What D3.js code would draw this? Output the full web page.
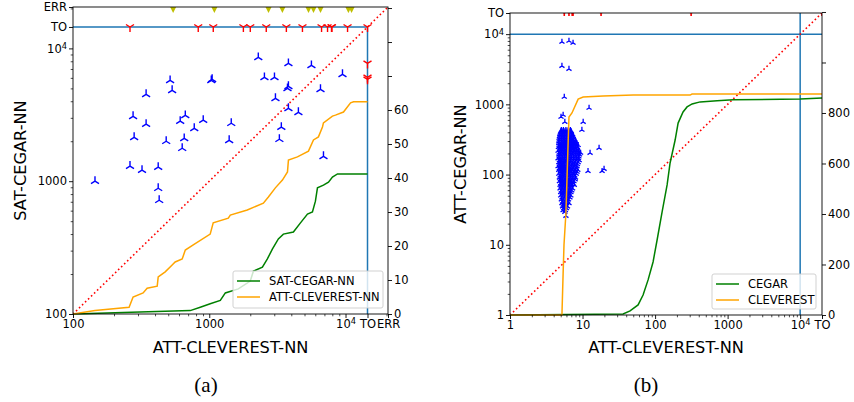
<!DOCTYPE html>
<html>
<head>
<meta charset="utf-8">
<script src="https://cdn.jsdelivr.net/npm/d3@7/dist/d3.min.js"></script>
<style>
  body { margin: 0; background: #fff; }
  svg { display: block; }
</style>
</head>
<body>
<div id="chart"></div>
<script>
// positions used for timeouts / errors beyond the last decade
const TO_A = 14500, ERR_A = 20500;
const TO_B = 20000;

// ---------- panel (a) data ----------
const aTicks = [100, 1000, 10000, TO_A, ERR_A];
const aTickLabels = ['100', '1000', '10^4', 'TO', 'ERR'];
const aCountTicks = [0, 10, 20, 30, 40, 50, 60, 70, 80, 90];
const aCountLabels = ['0', '10', '20', '30', '40', '50', '60', '', '', ''];

// [ATT-CLEVEREST-NN time, SAT-CEGAR-NN time], both solved
const aSolved = [
  [2290, 8550], [3810, 7710], [5620, 7450], [9500, 6380], [2540, 6050], [3010, 6050],
  [3810, 5180], [3750, 5000], [6550, 4920], [3060, 4210], [516, 5740], [1035, 5740],
  [1050, 5850], [534, 4830], [344, 4510], [3810, 3540], [4510, 3300], [276, 3080],
  [667, 3130], [612, 2830], [344, 2690], [903, 2880], [776, 2500], [1450, 2730],
  [3380, 2550], [281, 2140], [483, 2000], [655, 2100], [1400, 2030], [3270, 2070],
  [633, 1770], [6890, 1540], [262, 1300], [321, 1210], [422, 1275], [145, 1000],
  [422, 885], [429, 719]
];
// one of the tools timed out
const aTimeout = [
  [262, TO_A], [830, TO_A], [1070, TO_A], [1780, TO_A], [2000, TO_A], [2620, TO_A],
  [3680, TO_A], [4830, TO_A], [6670, TO_A], [7380, TO_A], [7890, TO_A], [7950, TO_A],
  [10350, TO_A], [TO_A, TO_A], [TO_A, 7710], [TO_A, 6050], [TO_A, 5850]
];
// SAT-CEGAR-NN errors
const aError = [543, 1090, 2720, 3440, 5350, 5820, 6550, 10500, 11070];

// cactus lines: [time, solved instances]
const aCegarLine = [
  [100, 0], [725, 1], [859, 2], [1016, 3], [1205, 4], [1312, 6.2], [1634, 7.4], [2000, 9.7],
  [2108, 12.6], [2455, 13.8], [2670, 16.2], [2904, 19.1], [3214, 22.1], [3499, 23.5],
  [4146, 24.1], [4670, 26.8], [5257, 29.4], [5718, 30], [6013, 33.2], [6223, 37.1],
  [6887, 37.9], [7499, 38.8], [8017, 40.3], [8730, 41.2], [TO_A, 41.2]
];
const aCleverLine = [
  [100, 0], [145, 1], [258, 2], [276, 5], [327, 6.2], [350, 7.6], [415, 8.2], [422, 10.9],
  [475, 12.4], [534, 14.4], [562, 15.3], [633, 16.2], [667, 18.8], [763, 20.3], [1016, 23.5],
  [1069, 26.8], [1380, 28.2], [1427, 29.1], [1901, 30.6], [2495, 32.6], [2716, 34.4],
  [3055, 37.1], [3443, 39.4], [3750, 41.8], [3811, 45.3], [4436, 46.2], [5346, 47.9],
  [5818, 51.2], [6327, 52.1], [6773, 55], [6887, 56.2], [8017, 58.2], [8433, 58.5],
  [9661, 59.4], [10890, 62.1], [11460, 62.4], [TO_A, 62.4]
];

// ---------- panel (b) data ----------
const bTicks = [1, 10, 100, 1000, 10000, TO_B];
const bTickLabels = ['1', '10', '100', '1000', '10^4', 'TO'];
const bCountTicks = [0, 200, 400, 600, 800, 1000, 1200];
const bCountLabels = ['0', '200', '400', '600', '800', '', ''];

// dense cluster, read row by row: [ATT-CEGAR-NN time, ATT-CLEVEREST-NN times]
const bClusterRows = [
  [430, [5.1, 5.45, 5.9, 6.35, 6.8]],
  [411, [5.0, 5.35, 5.7, 6.1, 6.55, 7.0]],
  [392, [4.9, 5.3, 5.75, 6.2, 6.7, 7.1]],
  [372, [4.85, 5.25, 5.65, 6.1, 6.55, 7.0, 7.3]],
  [352, [4.8, 5.2, 5.6, 6.05, 6.5, 7.0, 7.45]],
  [332, [4.75, 5.15, 5.55, 6.0, 6.45, 6.95, 7.6]],
  [312, [4.75, 5.1, 5.5, 5.95, 6.4, 6.9, 7.35, 7.9]],
  [295, [4.7, 5.2, 5.6, 6.05, 6.5, 7.0, 7.55, 8.1]],
  [278, [4.7, 5.05, 5.4, 5.8, 6.25, 6.7, 7.2, 7.75, 8.3]],
  [262, [4.75, 5.2, 5.6, 6.0, 6.5, 7.0, 7.5, 8.1, 8.7]],
  [246, [4.65, 5.0, 5.35, 5.8, 6.3, 6.8, 7.3, 7.85, 8.5]],
  [231, [4.8, 5.15, 5.5, 5.95, 6.4, 6.9, 7.45, 8.05, 8.7]],
  [217, [4.6, 4.95, 5.3, 5.7, 6.1, 6.6, 7.1, 7.7, 8.3, 8.9]],
  [204, [4.75, 5.15, 5.55, 5.95, 6.4, 6.9, 7.5, 8.1, 8.8, 9.4]],
  [192, [4.7, 5.0, 5.4, 5.85, 6.2, 6.75, 7.25, 7.9, 8.6, 9.1]],
  [180, [4.75, 5.2, 5.6, 6.0, 6.45, 6.95, 7.5, 8.1, 8.9]],
  [169, [4.6, 4.9, 5.3, 5.65, 6.05, 6.5, 7.0, 7.6, 8.2, 8.8]],
  [159, [4.8, 5.15, 5.55, 5.95, 6.4, 6.9, 7.5, 8.3, 9.0]],
  [149, [4.7, 5.0, 5.4, 5.8, 6.3, 6.8, 7.4, 8.0, 8.7]],
  [140, [4.8, 5.2, 5.6, 6.1, 6.6, 7.2, 7.8, 8.5]],
  [131, [4.6, 4.9, 5.25, 5.6, 6.0, 6.5, 7.1, 7.7, 8.4]],
  [123, [4.8, 5.15, 5.5, 5.95, 6.4, 6.95, 7.5, 8.2]],
  [116, [4.7, 5.0, 5.4, 5.8, 6.2, 6.7, 7.3, 7.95, 8.6]],
  [109, [4.9, 5.25, 5.65, 6.05, 6.6, 7.1, 7.8, 8.4]],
  [102, [4.7, 5.1, 5.5, 5.9, 6.4, 6.9, 7.5, 8.2]],
  [96, [4.9, 5.3, 5.7, 6.15, 6.6, 7.2, 7.8]],
  [90, [4.8, 5.1, 5.5, 5.95, 6.3, 6.8, 7.4, 8.0]],
  [85, [4.95, 5.3, 5.75, 6.2, 6.7, 7.2, 7.9]],
  [80, [4.8, 5.2, 5.6, 6.0, 6.5, 7.0, 7.6]],
  [75, [5.0, 5.4, 5.8, 6.3, 6.8, 7.4]],
  [71, [4.9, 5.2, 5.6, 6.1, 6.6, 7.1, 7.7]],
  [67, [5.05, 5.45, 5.9, 6.4, 6.95]],
  [63, [4.9, 5.3, 5.7, 6.2, 6.7, 7.3]],
  [59, [5.1, 5.55, 6.0, 6.5, 7.1]],
  [56, [5.0, 5.4, 5.8, 6.3, 6.9]],
  [53, [5.2, 5.6, 6.1, 6.6]],
  [50, [5.0, 5.4, 5.9, 6.4, 6.9]],
  [47, [5.2, 5.7, 6.2, 6.7]],
  [44, [5.1, 5.5, 5.95, 6.4]],
  [41, [5.3, 5.8, 6.25]],
  [39, [5.2, 5.6, 6.0, 6.5]],
  [37, [5.4, 5.9]],
  [35, [5.3, 5.7, 6.2]],
  [33, [5.5, 6.0]],
  [31, [5.4, 5.8]]
];
const bOutliers = [
  [5.2, 7750], [6.5, 8000], [7.4, 7500], [5.2, 3520], [6.5, 3190], [5.6, 1275],
  [12.3, 889], [5.4, 706], [5.05, 662], [5.7, 561], [10.2, 561], [9.8, 432],
  [12.7, 203], [16.9, 239], [11.9, 112], [18.6, 112], [19.8, 120], [5.7, 29.3], [5.9, 25.7]
];
const bTimeout = [
  [5.6, TO_B], [6.5, TO_B], [7.2, TO_B], [7.4, TO_B], [18, TO_B], [314, TO_B], [TO_B, TO_B]
];
const bCegarLine = [
  [1, 0], [36.2, 4], [45.2, 16], [58.3, 40], [68.3, 79], [80.1, 139], [93.8, 210],
  [106.6, 297], [125, 408], [146.5, 515], [161, 602], [189, 693], [207.7, 760], [243, 804],
  [276, 824], [324, 836], [418, 844], [716, 848], [1191, 852], [10000, 855], [TO_B, 859]
];
const bCleverLine = [
  [1, 0], [5.2, 0], [5.4, 166], [5.55, 277], [5.9, 404], [6.1, 535], [6.3, 665], [6.5, 784],
  [7.15, 800], [8.7, 855], [10.2, 863], [19.2, 867], [50, 871], [304, 871], [323, 875], [TO_B, 875]
];

const FONT = '"DejaVu Sans", sans-serif';
const TICK_FS = 11.5;

const svg = d3.select('#chart').append('svg')
  .attr('width', 854).attr('height', 402)
  .style('font-family', FONT);

// matplotlib style tri markers ('1' = down, '2' = up)
function tri(h, up) {
  const s = up ? -1 : 1;
  return 'M0,0L0,' + (s * h) + 'M0,0L' + (0.8 * h) + ',' + (-s * 0.5 * h) +
    'M0,0L' + (-0.8 * h) + ',' + (-s * 0.5 * h);
}

function minorTicks(lo, hi) {
  const out = [];
  for (let e = Math.round(Math.log10(lo)); Math.pow(10, e) < hi; e++) {
    for (let m = 2; m <= 9; m++) {
      const v = m * Math.pow(10, e);
      if (v <= hi) out.push(v);
    }
  }
  return out;
}

function addAxis(g, axis, pos, ticks, labels) {
  const lab = new Map(ticks.map((t, i) => [t, labels[i]]));
  const a = g.append('g').attr('transform', pos)
    .call(axis.tickValues(ticks).tickFormat(d => lab.get(d)));
  a.select('.domain').remove();
  a.attr('font-family', null).attr('font-size', TICK_FS).attr('color', '#000');
  a.selectAll('.tick line').attr('stroke-width', 0.9);
  a.selectAll('.tick text').filter(d => lab.get(d) === '10^4').each(function () {
    const t = d3.select(this).text('10');
    t.append('tspan').attr('dy', '-0.45em').attr('font-size', '0.72em').text('4');
  });
  return a;
}

function addMinor(g, axis, pos, ticks) {
  const a = g.append('g').attr('transform', pos)
    .call(axis.tickValues(ticks).tickSize(2.3).tickFormat(() => ''));
  a.select('.domain').remove();
  a.attr('color', '#000');
  a.selectAll('.tick line').attr('stroke-width', 0.7);
}

function addLegend(g, x0, y0, w, h, items) {
  g.append('rect').attr('x', x0).attr('y', y0).attr('width', w).attr('height', h)
    .attr('rx', 2).attr('fill', '#fff').attr('fill-opacity', 0.8)
    .attr('stroke', '#cccccc').attr('stroke-width', 0.9);
  items.forEach(function (it, i) {
    const yy = y0 + 10 + i * 16;
    g.append('line').attr('x1', x0 + 4).attr('x2', x0 + 27).attr('y1', yy).attr('y2', yy)
      .attr('stroke', it.color).attr('stroke-width', 1.5);
    g.append('text').attr('x', x0 + 36).attr('y', yy).attr('dy', '0.36em')
      .attr('font-size', 11.5).attr('fill', '#000').text(it.label);
  });
}

function frame(g, id, x, y) {
  const [l, r] = x.range(), [b, t] = y.range();
  g.append('clipPath').attr('id', id).append('rect')
    .attr('x', l).attr('y', t).attr('width', r - l).attr('height', b - t);
  return g.append('g').attr('clip-path', 'url(#' + id + ')');
}

function spines(g, x, y) {
  const [l, r] = x.range(), [b, t] = y.range();
  g.append('rect').attr('x', l).attr('y', t).attr('width', r - l).attr('height', b - t)
    .attr('fill', 'none').attr('stroke', '#000').attr('stroke-width', 0.9);
}

// ================= panel (a) =================
const xA = d3.scaleLog().domain([100, ERR_A]).range([73, 388]);
const yA = d3.scaleLog().domain([100, ERR_A]).range([314, 7]);
const cA = d3.scaleLinear().domain([0, 90.3]).range([314, 7]);

const gA = svg.append('g');
const plotA = frame(gA, 'clipA', xA, yA);

// timeout border lines
plotA.append('path')
  .attr('d', d3.line()([[xA(100), yA(TO_A)], [xA(TO_A), yA(TO_A)], [xA(TO_A), yA(100)]]))
  .attr('fill', 'none').attr('stroke', '#1f77b4').attr('stroke-width', 1.5);
// diagonal
plotA.append('line')
  .attr('x1', xA(100)).attr('y1', yA(100)).attr('x2', xA(ERR_A)).attr('y2', yA(ERR_A))
  .attr('stroke', 'red').attr('stroke-width', 1.6).attr('stroke-dasharray', '1.6,2.6');

plotA.selectAll('.solved').data(aSolved).enter().append('path')
  .attr('transform', d => 'translate(' + xA(d[0]) + ',' + yA(d[1]) + ')')
  .attr('d', tri(5, true)).attr('fill', 'none').attr('stroke', 'blue').attr('stroke-width', 1.4);
plotA.selectAll('.timeout').data(aTimeout).enter().append('path')
  .attr('transform', d => 'translate(' + xA(d[0]) + ',' + yA(d[1]) + ')')
  .attr('d', tri(5, false)).attr('fill', 'none').attr('stroke', 'red').attr('stroke-width', 1.4);
plotA.selectAll('.error').data(aError).enter().append('path')
  .attr('transform', d => 'translate(' + xA(d) + ',' + yA(ERR_A) + ')')
  .attr('d', 'M-6,-6L6,-6L0,6Z').attr('fill', '#bfbf00');

// cactus lines on the twin axis
const lineA = d3.line().x(d => xA(d[0])).y(d => cA(d[1]));
gA.append('path').datum(aCegarLine).attr('d', lineA)
  .attr('fill', 'none').attr('stroke', 'green').attr('stroke-width', 1.5);
gA.append('path').datum(aCleverLine).attr('d', lineA)
  .attr('fill', 'none').attr('stroke', 'orange').attr('stroke-width', 1.5);

spines(gA, xA, yA);
addMinor(gA, d3.axisLeft(yA), 'translate(73,0)', minorTicks(100, ERR_A));
addMinor(gA, d3.axisBottom(xA), 'translate(0,314)', minorTicks(100, ERR_A));
addAxis(gA, d3.axisLeft(yA).tickSize(4).tickPadding(2), 'translate(73,0)', aTicks, aTickLabels);
addAxis(gA, d3.axisBottom(xA).tickSize(4).tickPadding(2), 'translate(0,314)', aTicks, aTickLabels);
addAxis(gA, d3.axisRight(cA).tickSize(4).tickPadding(2), 'translate(388,0)', aCountTicks, aCountLabels);

gA.append('text').attr('x', 230.5).attr('y', 353).attr('text-anchor', 'middle')
  .attr('font-size', 16.2).text('ATT-CLEVEREST-NN');
gA.append('text').attr('transform', 'translate(26,160.5) rotate(-90)').attr('text-anchor', 'middle')
  .attr('font-size', 16.2).text('SAT-CEGAR-NN');
addLegend(gA, 233, 271, 150, 37, [
  { label: 'SAT-CEGAR-NN', color: 'green' },
  { label: 'ATT-CLEVEREST-NN', color: 'orange' }
]);
gA.append('text').attr('x', 206).attr('y', 392).attr('text-anchor', 'middle')
  .attr('font-family', '"Liberation Serif", serif').attr('font-size', 21).text('(a)');

// ================= panel (b) =================
const xB = d3.scaleLog().domain([1, TO_B]).range([510, 822]);
const yB = d3.scaleLog().domain([1, TO_B]).range([315, 13]);
const cB = d3.scaleLinear().domain([0, 1196]).range([315, 13]);

const gB = svg.append('g');
const plotB = frame(gB, 'clipB', xB, yB);

plotB.append('line')
  .attr('x1', xB(1)).attr('x2', xB(TO_B)).attr('y1', yB(10000)).attr('y2', yB(10000))
  .attr('stroke', '#1f77b4').attr('stroke-width', 1.5);
plotB.append('line')
  .attr('x1', xB(10000)).attr('x2', xB(10000)).attr('y1', yB(1)).attr('y2', yB(TO_B))
  .attr('stroke', '#1f77b4').attr('stroke-width', 1.5);
plotB.append('line')
  .attr('x1', xB(1)).attr('y1', yB(1)).attr('x2', xB(TO_B)).attr('y2', yB(TO_B))
  .attr('stroke', 'red').attr('stroke-width', 1.6).attr('stroke-dasharray', '1.6,2.6');

const bSolved = bClusterRows.flatMap(r => r[1].map(x => [x, r[0]])).concat(bOutliers);
plotB.selectAll('.solved').data(bSolved).enter().append('path')
  .attr('transform', d => 'translate(' + xB(d[0]) + ',' + yB(d[1]) + ')')
  .attr('d', tri(3.2, true)).attr('fill', 'none').attr('stroke', 'blue').attr('stroke-width', 1.3);
plotB.selectAll('.timeout').data(bTimeout).enter().append('path')
  .attr('transform', d => 'translate(' + xB(d[0]) + ',' + yB(d[1]) + ')')
  .attr('d', tri(3, false)).attr('fill', 'none').attr('stroke', 'red').attr('stroke-width', 1.6);

const lineB = d3.line().x(d => xB(d[0])).y(d => cB(d[1]));
gB.append('path').datum(bCegarLine).attr('d', lineB)
  .attr('fill', 'none').attr('stroke', 'green').attr('stroke-width', 1.5);
gB.append('path').datum(bCleverLine).attr('d', lineB)
  .attr('fill', 'none').attr('stroke', 'orange').attr('stroke-width', 1.5);

spines(gB, xB, yB);
addMinor(gB, d3.axisLeft(yB), 'translate(510,0)', minorTicks(1, TO_B));
addMinor(gB, d3.axisBottom(xB), 'translate(0,315)', minorTicks(1, TO_B));
addAxis(gB, d3.axisLeft(yB).tickSize(4).tickPadding(2), 'translate(510,0)', bTicks, bTickLabels);
addAxis(gB, d3.axisBottom(xB).tickSize(4).tickPadding(2), 'translate(0,315)', bTicks, bTickLabels);
addAxis(gB, d3.axisRight(cB).tickSize(4).tickPadding(2), 'translate(822,0)', bCountTicks, bCountLabels);

gB.append('text').attr('x', 666).attr('y', 353).attr('text-anchor', 'middle')
  .attr('font-size', 16.2).text('ATT-CLEVEREST-NN');
gB.append('text').attr('transform', 'translate(466,164) rotate(-90)').attr('text-anchor', 'middle')
  .attr('font-size', 16.2).text('ATT-CEGAR-NN');
addLegend(gB, 712, 274, 104, 35, [
  { label: 'CEGAR', color: 'green' },
  { label: 'CLEVEREST', color: 'orange' }
]);
gB.append('text').attr('x', 646).attr('y', 392).attr('text-anchor', 'middle')
  .attr('font-family', '"Liberation Serif", serif').attr('font-size', 21).text('(b)');
</script>
</body>
</html>
